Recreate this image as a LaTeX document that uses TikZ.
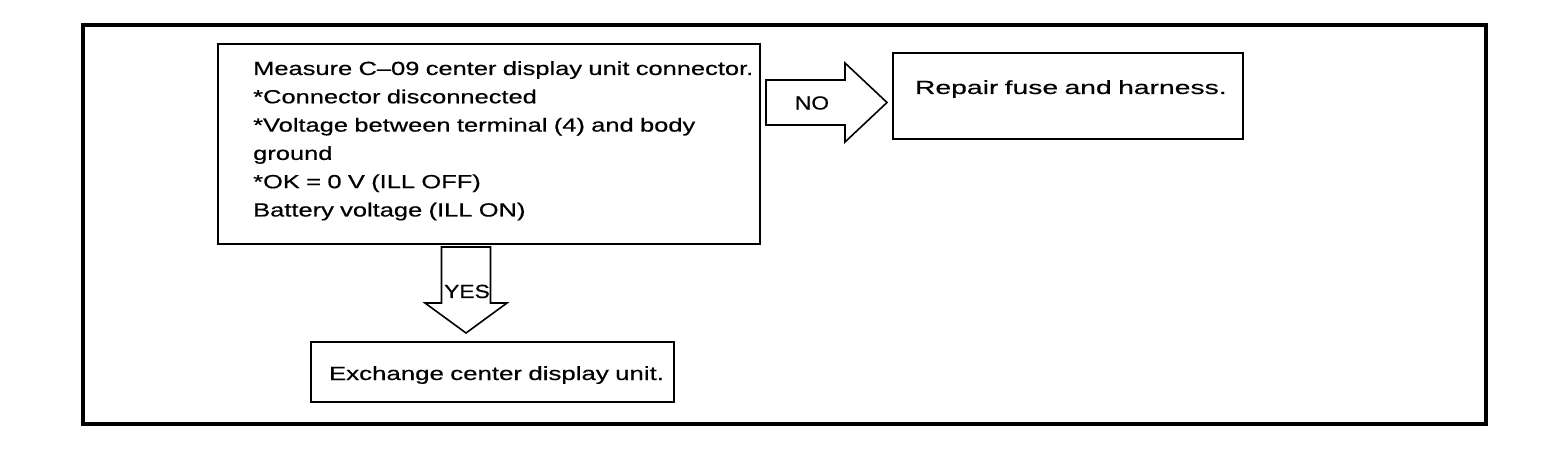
\documentclass[tikz,border=0pt]{standalone}
\usepackage{fontspec}
\setmainfont{Liberation Sans}[FakeStretch=1.34,FakeBold=0.5]
\newfontfamily\repfont{Liberation Sans}[FakeStretch=1.49,FakeBold=0.5]
\newfontfamily\exfont{Liberation Sans}[FakeStretch=1.36,FakeBold=0.5]
\newfontfamily\lblfont{Liberation Sans}[FakeStretch=1.2,FakeBold=0.5]
\usetikzlibrary{calc}
\tikzset{
  frame/.style={draw=black, line width=4pt},
  stepbox/.style={draw=black, line width=2.3pt, inner sep=0pt, rectangle},
  fatarrow/.style={draw=black, line width=1.6pt, line join=miter},
  txt/.style={font=\fontsize{19}{28.3}\selectfont, inner sep=0pt},
}
\begin{document}
\begin{tikzpicture}[x=1pt,y=-1pt]
\useasboundingbox (0,0) rectangle (1568,454);
\fill[white] (0,0) rectangle (1568,454);
% outer frame
\draw[frame] (83,25) rectangle (1486,424);
% main step box
\node[stepbox, anchor=north west, minimum width=542pt, minimum height=200pt] (main) at (217,43) {};
\node[txt, anchor=base west, text width=505pt, align=left] (maintext) at (253,75)
 {Measure C–09 center display unit connector.\\
  {*}Connector disconnected\\
  {*}Voltage between terminal (4) and body\\
  ground\\
  {*}OK = 0 V (ILL OFF)\\
  Battery voltage (ILL ON)};
% repair box
\node[stepbox, txt, line width=2pt, anchor=north west, inner xsep=0pt, text width=350pt,
      align=left, text height=41pt, text depth=45pt] (repair) at (892,52)
 {\hspace*{22pt}\mbox{\repfont Repair fuse and harness.}};
% exchange box
\node[stepbox, txt, line width=2pt, anchor=north west, inner xsep=0pt, text width=363pt,
      align=left, text height=38pt, text depth=22pt] (exch) at (310,341)
 {\hspace*{18pt}\mbox{\exfont Exchange center display unit.}};
% NO arrow
\draw[fatarrow] (766,80) -- (845,80) -- (845,63) -- (887,102.5) -- (845,142) -- (845,125) -- (766,125) -- cycle;
\node[txt] (no) at (812,103) {\lblfont NO};
% YES arrow
\draw[fatarrow] (441.5,247) -- (441.5,303) -- (425,303) -- (466,333) -- (507,303) -- (490.5,303) -- (490.5,247) -- cycle;
\node[txt, anchor=base] (yes) at (467,298) {\lblfont YES};
\end{tikzpicture}
\end{document}
